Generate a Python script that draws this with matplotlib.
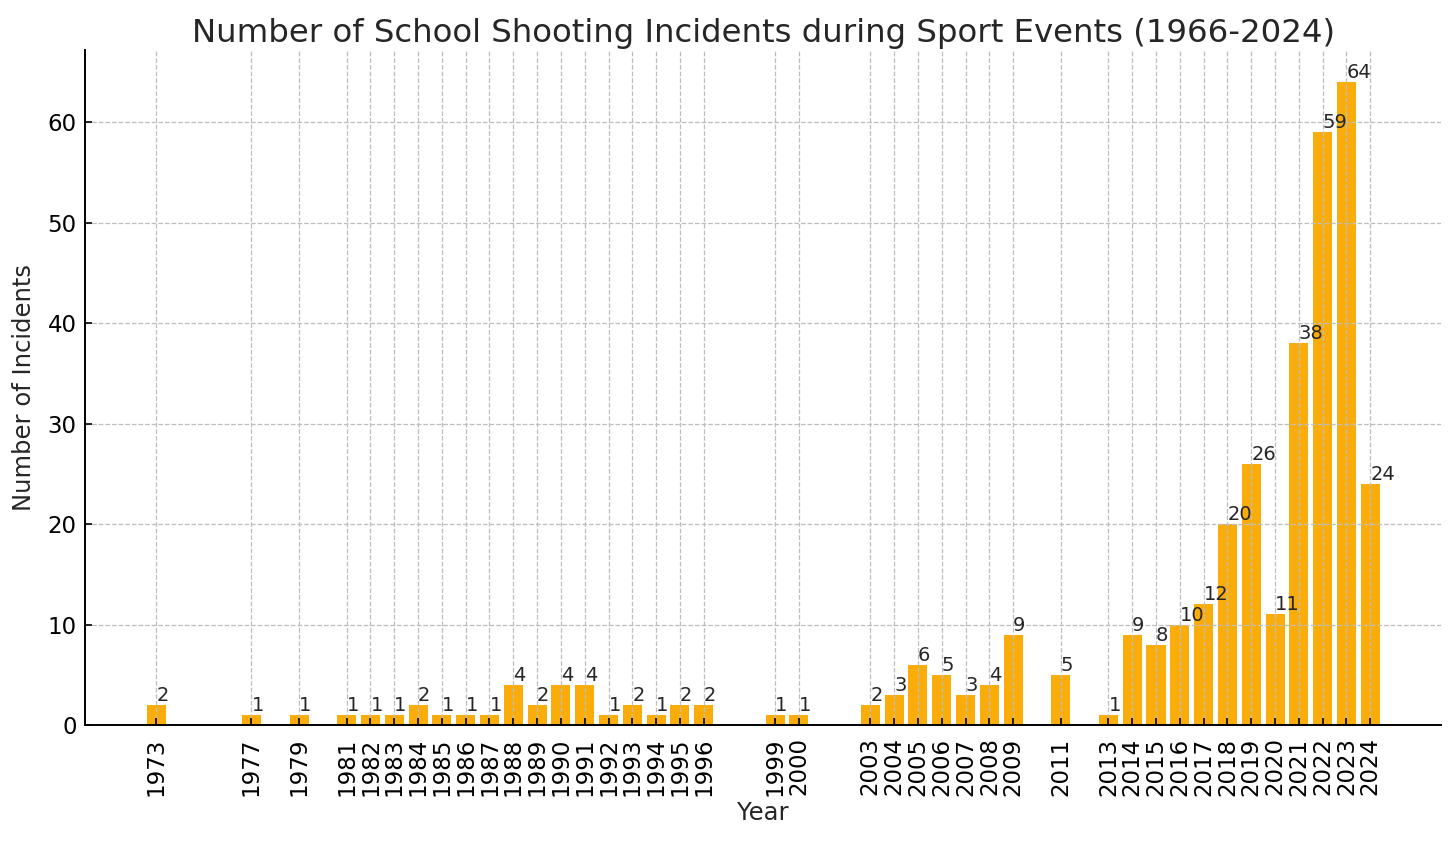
import matplotlib
matplotlib.use("Agg")
import matplotlib.pyplot as plt

# jaren en aantal incidenten
years = [1973, 1977, 1979, 1981, 1982, 1983, 1984, 1985, 1986, 1987,
         1988, 1989, 1990, 1991, 1992, 1993, 1994, 1995, 1996, 1999,
         2000, 2003, 2004, 2005, 2006, 2007, 2008, 2009, 2011, 2013,
         2014, 2015, 2016, 2017, 2018, 2019, 2020, 2021, 2022, 2023, 2024]
incidents = [2, 1, 1, 1, 1, 1, 2, 1, 1, 1,
             4, 2, 4, 4, 1, 2, 1, 2, 2, 1,
             1, 2, 3, 6, 5, 3, 4, 9, 5, 1,
             9, 8, 10, 12, 20, 26, 11, 38, 59, 64, 24]

fig, ax = plt.subplots(figsize=(14.56, 8.41), dpi=100)
fig.subplots_adjust(left=0.0584, right=0.990, top=0.9405, bottom=0.138)

ax.bar(years, incidents, color='#FAAD0A', width=0.8)

# waarde boven elke staaf
for x, y in zip(years, incidents):
    ax.text(x, y, str(y), ha='left', va='bottom', fontsize=14, color='#262626')

ax.set_xticks(years)
ax.set_xticklabels([str(y) for y in years], rotation=90)
ax.tick_params(direction='in', labelsize=16.5, length=5, width=1.2, colors='black', pad=6)
ax.tick_params(axis='x', pad=9)
ax.grid(True, linestyle='--', color='#bdbdbd', linewidth=0.9)

ax.spines['top'].set_visible(False)
ax.spines['right'].set_visible(False)
ax.spines['left'].set_linewidth(1.4)
ax.spines['bottom'].set_linewidth(1.4)

ax.set_title('Number of School Shooting Incidents during Sport Events (1966-2024)',
             fontsize=23.3, color='#262626')
ax.set_xlabel('Year', fontsize=17.5, color='#262626')
ax.set_ylabel('Number of Incidents', fontsize=17.5, color='#262626', labelpad=8)

fig.savefig('out.png', dpi=100)
